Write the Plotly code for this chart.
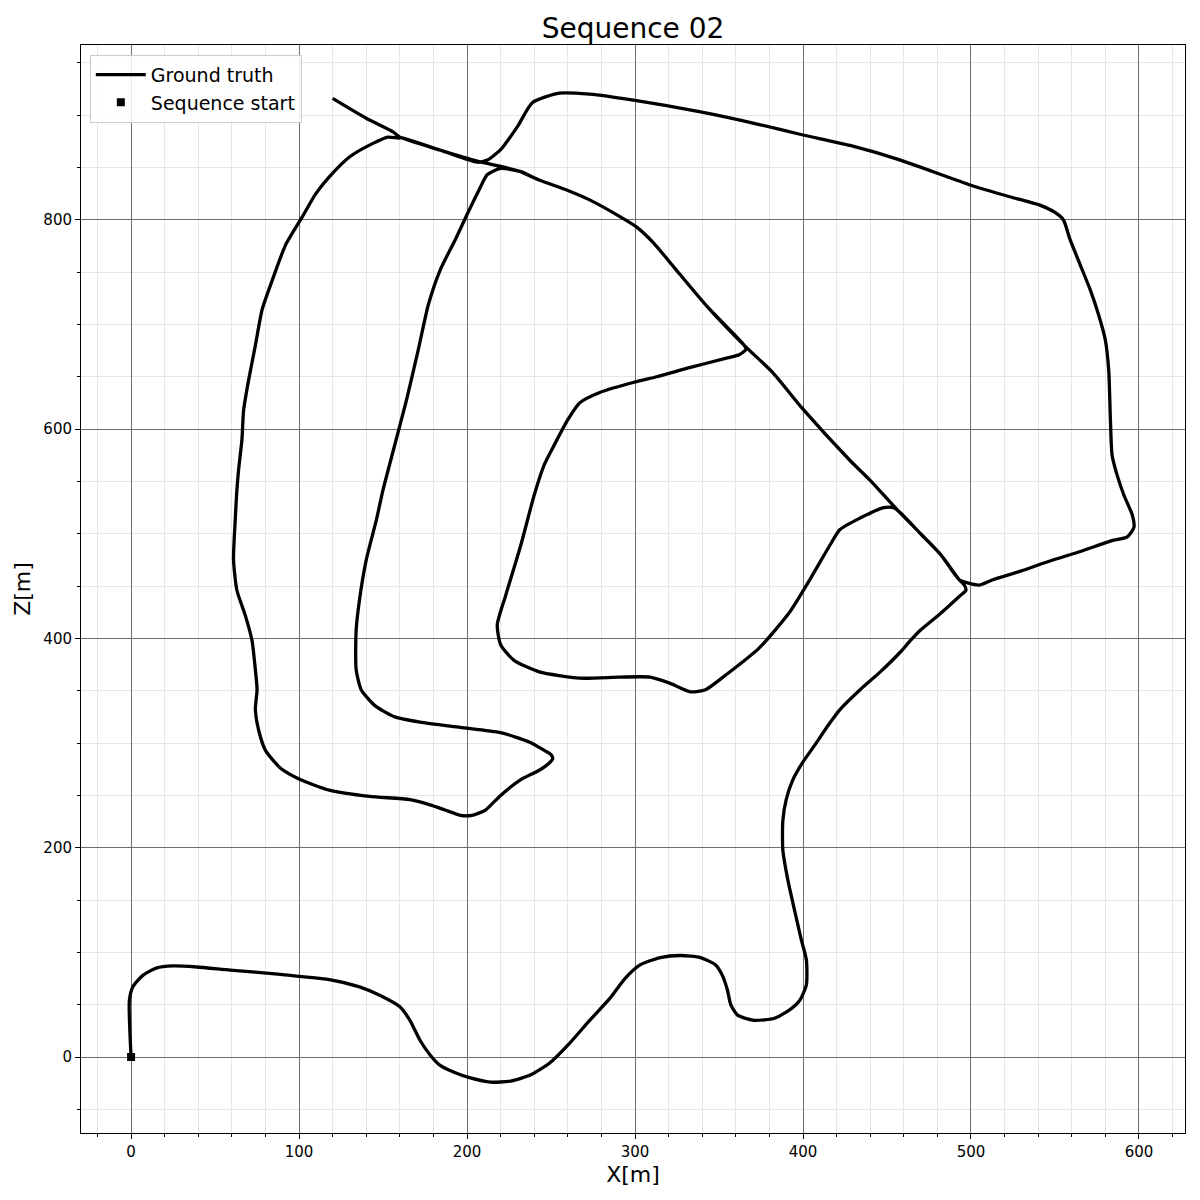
import plotly.graph_objects as go

# --- Trajectory segments (X, Z in metres) ---
# bottom route: start -> right junction
seg_bottom_x = [0, -1, 1, 7, 15, 25, 39, 59, 89, 100, 118, 136, 148, 160, 166, 172, 178, 184, 193, 202,
                214, 226, 238, 249, 261, 273, 285, 294, 303, 315, 327, 339, 348, 352, 355, 357, 361, 371,
                383, 392, 398, 402, 402, 399, 395, 391, 388, 388, 390, 394, 400, 407, 415, 422, 434, 446,
                458, 464, 470, 482, 493, 497, 496]
seg_bottom_z = [0, 54, 67, 78, 85, 87, 86, 83, 79, 77, 74, 67, 59, 48, 35, 16, 2, -8, -15, -20,
                -24, -23, -17, -6, 13, 35, 56, 75, 88, 95, 97, 95, 88, 78, 64, 50, 40, 35,
                37, 45, 54, 69, 93, 112, 140, 169, 198, 226, 246, 265, 282, 298, 317, 332, 351, 368,
                387, 398, 408, 424, 440, 446, 451]

# diagonal road from the right junction up to the top-left junction
seg_diag_x = [493, 482, 470, 456, 440, 428, 400, 382, 365, 343, 323, 311, 301, 291, 273, 260, 243, 232,
              220, 206, 185, 160]
seg_diag_z = [456, 480, 500, 523, 551, 570, 619, 654, 680, 717, 755, 778, 793, 803, 819, 828, 838, 846,
              851, 856, 866, 879]

# outer western loop, hairpin, and inner loop back to the diagonal
seg_outer_x = [160, 153, 144, 130, 118, 110, 102, 92, 84, 78, 74, 70, 67, 66, 64, 63, 62, 61, 63, 68,
               72, 74, 75, 74, 76, 80, 89, 101, 118, 142, 166, 178, 187, 196, 203, 211, 220, 232, 243,
               249, 251, 250, 246, 237, 220, 196, 172, 157, 145, 137, 134, 134, 136, 140, 146, 150, 157,
               164, 171, 177, 184, 193, 200, 207, 212, 220, 232]
seg_outer_z = [878, 879, 873, 860, 841, 825, 803, 776, 742, 714, 680, 647, 618, 590, 561, 542, 513, 475,
               446, 422, 398, 370, 351, 332, 312, 293, 276, 265, 255, 249, 246, 241, 236, 231, 231, 236,
               250, 265, 274, 281, 285, 289, 293, 301, 310, 315, 320, 325, 336, 351, 370, 408, 437, 475,
               513, 542, 585, 628, 676, 719, 752, 781, 805, 828, 843, 849, 846]

# diagonal back down from the top-left junction to the hook
seg_back_x = [232, 243, 260, 273, 291, 301, 311, 323, 343, 365]
seg_back_z = [846, 838, 828, 819, 803, 793, 778, 755, 717, 680]

# innermost loop from the hook to the middle junction
seg_inner_x = [366, 362, 355, 333, 313, 300, 279, 267, 260, 252, 246, 240, 232, 223, 218, 220, 228,
               243, 267, 291, 309, 321, 333, 342, 354, 374, 392, 404, 416, 422, 434, 448, 454]
seg_inner_z = [676, 671, 668, 659, 650, 645, 635, 625, 609, 585, 566, 537, 489, 441, 413, 394, 379,
               368, 362, 363, 363, 357, 349, 351, 365, 391, 425, 456, 489, 504, 515, 525, 525]

# diagonal down to the right junction
seg_down_x = [458, 470, 482, 493]
seg_down_z = [520, 500, 480, 456]

# eastern loop back to the top-left junction
seg_east_x = [498, 505, 513, 529, 547, 565, 583, 593, 597, 596, 591, 587, 584, 583, 582, 580, 576, 571,
              565, 559, 555, 550, 541, 523, 500, 458, 428, 400, 374, 339, 300, 273, 255, 239, 230, 220,
              212, 206, 185, 160]
seg_east_z = [453, 451, 456, 464, 474, 483, 493, 497, 506, 518, 537, 556, 575, 609, 656, 685, 709, 733,
              757, 781, 800, 807, 814, 822, 833, 857, 871, 881, 891, 903, 914, 920, 921, 912, 889, 867,
              857, 855, 866, 879]

# final leg to the end of the sequence
seg_end_x = [156, 140, 120]
seg_end_z = [884, 897, 916]

order = [(seg_bottom_x, seg_bottom_z), (seg_diag_x, seg_diag_z), (seg_outer_x, seg_outer_z),
         (seg_back_x, seg_back_z), (seg_inner_x, seg_inner_z), (seg_down_x, seg_down_z),
         (seg_east_x, seg_east_z), (seg_end_x, seg_end_z)]
traj_x, traj_z = [], []
for sx, sz in order:
    traj_x += sx
    traj_z += sz

start_x = [0]
start_z = [0]

fig = go.Figure()
fig.add_trace(go.Scatter(x=traj_x, y=traj_z, mode="lines", name="Ground truth",
                         line=dict(color="black", width=3.3, shape="spline", smoothing=0.6)))
fig.add_trace(go.Scatter(x=start_x, y=start_z, mode="markers", name="Sequence start",
                         marker=dict(symbol="square", color="black", size=8)))

font_family = "DejaVu Sans"
axis_common = dict(
    showgrid=True, gridcolor="#6e6e6e", gridwidth=1,
    showline=True, linecolor="black", linewidth=1, mirror=True,
    ticks="outside", ticklen=5, tickcolor="black", tickwidth=1,
    tickfont=dict(size=15, color="black", family=font_family),
    zeroline=False,
)
fig.update_layout(
    width=1200, height=1200,
    margin=dict(l=81, r=15, t=45, b=67),
    paper_bgcolor="white", plot_bgcolor="white",
    font=dict(family=font_family, color="black"),
    title=dict(text="Sequence 02", x=0.5, xref="paper", xanchor="center",
               y=1 - 28 / 1200, yref="container", yanchor="middle",
               font=dict(size=28, color="black", family=font_family)),
    xaxis=dict(range=[-29.8, 627.4], tick0=0, dtick=100,
               minor=dict(tick0=0, dtick=20, showgrid=True, gridcolor="#e6e6e6", gridwidth=1,
                          ticks="outside", ticklen=3, tickcolor="black"),
               title=dict(text="X[m]", font=dict(size=22, color="black"), standoff=6),
               **axis_common),
    yaxis=dict(range=[-72.6, 967], tick0=0, dtick=200,
               minor=dict(tick0=0, dtick=50, showgrid=True, gridcolor="#e6e6e6", gridwidth=1,
                          ticks="outside", ticklen=3, tickcolor="black"),
               title=dict(text="Z[m]", font=dict(size=22, color="black"), standoff=6),
               **axis_common),
    legend=dict(x=0.008, y=0.991, xanchor="left", yanchor="top",
                bgcolor="rgba(255,255,255,0.85)", bordercolor="#cccccc", borderwidth=1,
                itemwidth=50,
                font=dict(size=19, color="black", family=font_family)),
    showlegend=True,
)

fig.write_html("out.html")
